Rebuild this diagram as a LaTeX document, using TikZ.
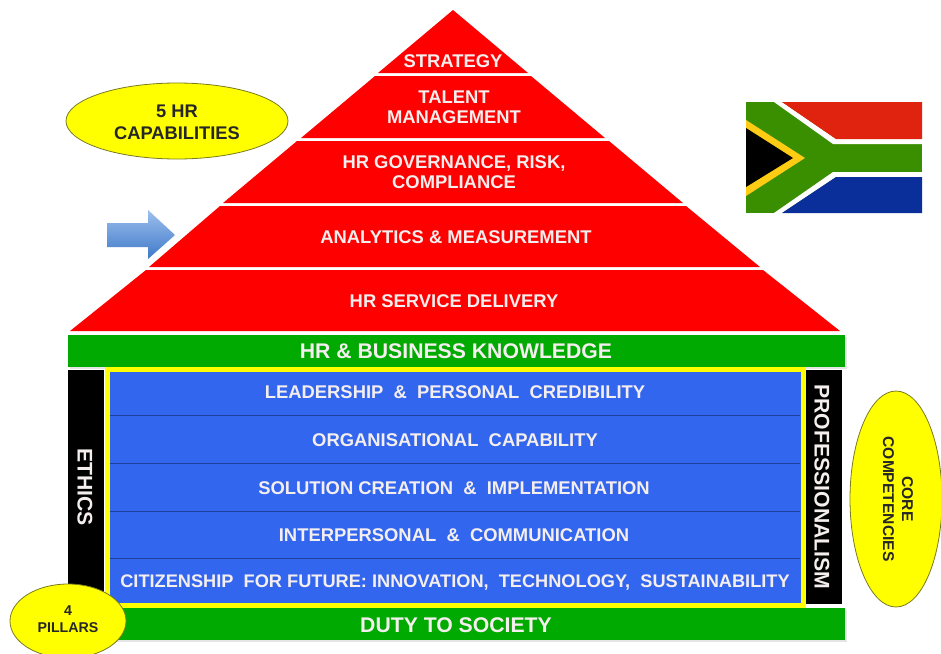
\documentclass[tikz,border=0pt]{standalone}
\usepackage{fontspec}
\setmainfont{Liberation Sans}[BoldFont={Liberation Sans Bold}]
\usetikzlibrary{shapes.geometric,shapes.arrows}
\definecolor{hrred}{HTML}{FF0000}
\definecolor{hrgreen}{HTML}{00AA00}
\definecolor{hrblue}{HTML}{3366EE}
\definecolor{hrline}{HTML}{1F3F9F}
\definecolor{hryellow}{HTML}{FFFF00}
\definecolor{hrtext}{HTML}{F4EEEE}
\definecolor{hrrim}{HTML}{7A7A20}
\definecolor{flagred}{HTML}{E0230F}
\definecolor{flaggreen}{HTML}{3A8F00}
\definecolor{flagblue}{HTML}{0A2F9A}
\definecolor{flaggold}{HTML}{FFCC14}
\definecolor{arrowtop}{HTML}{9DC0EE}
\definecolor{arrowbot}{HTML}{3F78C8}
\tikzset{
  x=1pt,y=-1pt,
  lab/.style={text=hrtext,font=\bfseries\fontsize{18.4}{20}\selectfont,align=center,inner sep=0pt},
  biglab/.style={text=hrtext,font=\bfseries\fontsize{21.2}{24}\selectfont,align=center,inner sep=0pt},
  sidelab/.style={text=hrtext,font=\bfseries\fontsize{21.2}{24}\selectfont,rotate=-90,inner sep=0pt},
  blk/.style={text=black!85,align=center,inner sep=0pt},
  oval/.style={ellipse,draw=hrrim,line width=0.8pt,fill=hryellow,inner sep=0pt},
  band/.style={fill=hrred,draw=none},
  row/.style={draw=hrline,line width=1pt}
}
\begin{document}
\begin{tikzpicture}
\useasboundingbox (0,0) rectangle (941,653);
% pyramid bands
\fill[band] (453,10) -- (528,73) -- (378,73) -- cycle;
\fill[band] (375,76) -- (531,76) -- (605,138) -- (301,138) -- cycle;
\fill[band] (297,141) -- (609,141) -- (683,203) -- (223,203) -- cycle;
\fill[band] (220,206) -- (686,206) -- (760,267) -- (149,267) -- cycle;
\fill[band] (146,270) -- (763,270) -- (840,331) -- (70,331) -- cycle;
% bars
\fill[black!10] (70,337) rectangle (847,369);
\fill[black!10] (70,610) rectangle (847,642);
\fill[black] (68,370) rectangle (104,606);
\fill[black] (806,370) rectangle (842,604);
\fill[hrgreen] (68,335) rectangle (845,367);
\fill[hrgreen] (68,608) rectangle (845,640);
\fill[hrblue,draw=hryellow,line width=5pt] (107,369.5) rectangle (803,605);
\draw[row] (110,415.5) -- (800,415.5);
\draw[row] (110,463.5) -- (800,463.5);
\draw[row] (110,511) -- (800,511);
\draw[row] (110,558.5) -- (800,558.5);
% flag
\fill[flaggreen] (746,102) rectangle (922,213);
\fill[white] (774,102) -- (782,102) -- (836,139) -- (922,139) -- (922,144) -- (833,144) -- cycle;
\fill[white] (774,213) -- (782,213) -- (836,177) -- (922,177) -- (922,172) -- (833,172) -- cycle;
\fill[flagred] (782,102) -- (836,139) -- (922,139) -- (922,102) -- cycle;
\fill[flagblue] (782,213) -- (836,177) -- (922,177) -- (922,213) -- cycle;
\fill[flaggold] (746,120) -- (805,158) -- (746,196) -- cycle;
\fill[black] (746,128) -- (793,158) -- (746,187) -- cycle;
% arrow
\shade[top color=arrowtop,bottom color=arrowbot]
  (107,223) -- (148,223) -- (148,210) -- (175,235) -- (148,259) -- (148,247) -- (107,247) -- cycle;
% ellipses
\node[oval,minimum width=222pt,minimum height=76pt] (capoval) at (177,121) {};
\node[oval,minimum width=116pt,minimum height=74pt] (pilloval) at (68,621) {};
\node[oval,minimum width=92pt,minimum height=216pt] (coreoval) at (896,499) {};
% texts
\node[lab] (strategy) at (453,61) {STRATEGY};
\node[lab] (talent) at (454,107) {TALENT\\MANAGEMENT};
\node[lab] (gov) at (454,172) {HR GOVERNANCE, RISK,\\COMPLIANCE};
\node[lab] (analytics) at (456,237) {ANALYTICS \& MEASUREMENT};
\node[lab] (service) at (454,301) {HR SERVICE DELIVERY};
\node[biglab] (know) at (456,351) {HR \& BUSINESS KNOWLEDGE};
\node[biglab] (duty) at (456,625) {DUTY TO SOCIETY};
\node[lab] (r1) at (455,392) {LEADERSHIP\ \ \&\ \ PERSONAL\ \ CREDIBILITY};
\node[lab] (r2) at (455,440) {ORGANISATIONAL\ \ CAPABILITY};
\node[lab] (r3) at (454,488) {SOLUTION CREATION\ \ \&\ \ IMPLEMENTATION};
\node[lab] (r4) at (454,535) {INTERPERSONAL\ \ \&\ \ COMMUNICATION};
\node[lab,font=\bfseries\fontsize{18.2}{20}\selectfont] (r5) at (455,583) {CITIZENSHIP\ \ FOR FUTURE: INNOVATION,\ \ TECHNOLOGY,\ \ SUSTAINABILITY};
\node[sidelab] (ethics) at (85,487) {ETHICS};
\node[sidelab] (prof) at (822,487) {PROFESSIONALISM};
\node[blk,font=\bfseries\fontsize{18.3}{22}\selectfont] (captext) at (177,122) {5 HR\\CAPABILITIES};
\node[blk,font=\bfseries\fontsize{14.2}{17}\selectfont] (pilltext) at (68,619) {4\\PILLARS};
\node[blk,font=\bfseries\fontsize{15.6}{19}\selectfont,rotate=-90] (coretext) at (898,499) {CORE\\COMPETENCIES};
\end{tikzpicture}
\end{document}
